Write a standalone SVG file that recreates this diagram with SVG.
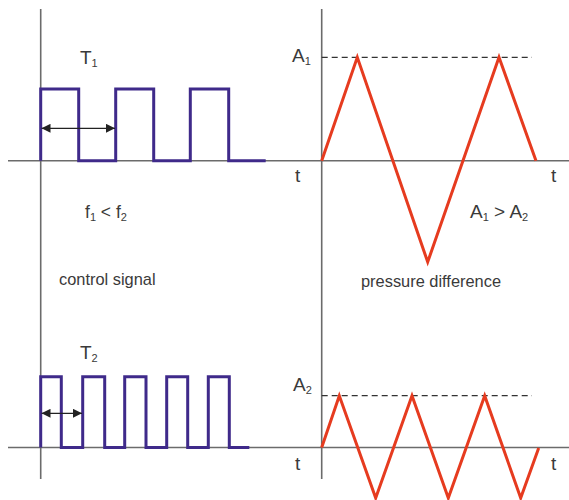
<svg xmlns="http://www.w3.org/2000/svg" width="569" height="500" viewBox="0 0 569 500">
<defs>
<marker id="ah" viewBox="0 0 10 10" refX="10" refY="5" markerWidth="9" markerHeight="9" orient="auto-start-reverse" markerUnits="userSpaceOnUse">
<path d="M0,0 L10,5 L0,10 Z" fill="#222"/>
</marker>
<style>
.axis{stroke:#6b6b6b;stroke-width:1.6;fill:none}
.sq{stroke:#3f2a8a;stroke-width:3;fill:none;stroke-linejoin:miter}
.tri{stroke:#e63b1f;stroke-width:3;fill:none;stroke-linejoin:miter}
.dash{stroke:#333;stroke-width:1.2;stroke-dasharray:6 4;fill:none}
.arr{stroke:#222;stroke-width:1.3;fill:none}
text{font-family:"Liberation Sans",Arial,sans-serif;fill:#3a3a3a}
.lb{font-size:19px}
.fl{font-size:17.5px}
.tx{font-size:16.4px}
.sub{font-size:11px}
</style>
</defs>
<g id="axes">
<line class="axis" x1="8" y1="160.7" x2="569" y2="160.7"/>
<line class="axis" x1="8" y1="447.5" x2="569" y2="447.5"/>
<line class="axis" x1="40.7" y1="9" x2="40.7" y2="479"/>
<line class="axis" x1="321.7" y1="9" x2="321.7" y2="479"/>
<line class="dash" x1="321.7" y1="57.3" x2="532" y2="57.3"/>
<line class="dash" x1="321.7" y1="395.7" x2="532" y2="395.7"/>
</g>
<g id="signal1">
<path class="sq" d="M40.7,160.7 V89 H78.7 V160.7 H115.7 V89 H153.7 V160.7 H190.3 V89 H228.7 V160.7 H265.7"/>
</g>
<g id="signal2">
<path class="sq" d="M40.7,447.5 V376.7 H61.3 V447.5 H82.7 V376.7 H104.7 V447.5 H124.7 V376.7 H146 V447.5 H166.7 V376.7 H187.7 V447.5 H208.3 V376.7 H229.3 V447.5 H249.3"/>
</g>
<g id="pressure1">
<path class="tri" d="M321.7,160.7 L357.3,57.3 L427.7,262 L499,57.3 L536,160.7"/>
</g>
<g id="pressure2">
<path class="tri" d="M321.7,447.5 L339.3,395.7 L375.7,498 L412,395.7 L448.3,498 L484.7,395.7 L520.7,498 L538.7,448"/>
</g>
<g id="connectors">
<line class="arr" x1="41.5" y1="128.3" x2="115" y2="128.3" marker-start="url(#ah)" marker-end="url(#ah)"/>
<line class="arr" x1="41.5" y1="413.3" x2="82" y2="413.3" marker-start="url(#ah)" marker-end="url(#ah)"/>
</g>
<g id="labels">
<text class="lb" x="80" y="64">T<tspan class="sub" dy="3">1</tspan></text>
<text class="lb" x="80" y="359">T<tspan class="sub" dy="3">2</tspan></text>
<text class="lb" x="292" y="62">A<tspan class="sub" dy="3">1</tspan></text>
<text class="lb" x="293" y="391">A<tspan class="sub" dy="3">2</tspan></text>
<text class="fl" x="85" y="218">f<tspan class="sub" dy="3">1</tspan><tspan dy="-3"> &lt; f</tspan><tspan class="sub" dy="3">2</tspan></text>
<text class="lb" x="470" y="218">A<tspan class="sub" dy="3">1</tspan><tspan dy="-3"> &gt; A</tspan><tspan class="sub" dy="3">2</tspan></text>
<text class="tx" x="59" y="285">control signal</text>
<text class="tx" x="361" y="287">pressure difference</text>
<text class="lb" x="295" y="182">t</text>
<text class="lb" x="551" y="182">t</text>
<text class="lb" x="295" y="470">t</text>
<text class="lb" x="551" y="470">t</text>
</g>
</svg>
